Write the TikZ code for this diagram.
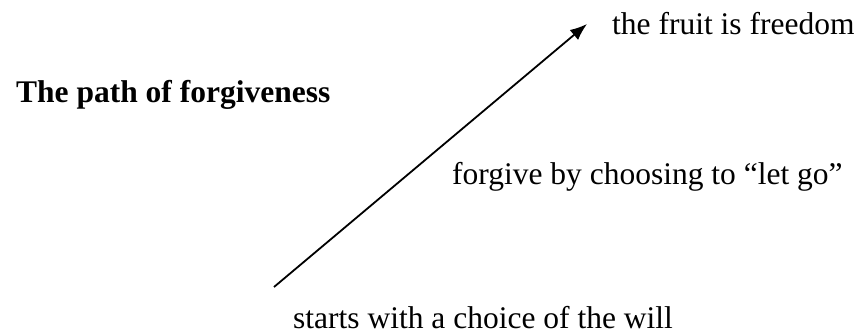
\documentclass[tikz,border=0pt]{standalone}
\usepackage{fontspec}
\setmainfont{Liberation Serif}
\usetikzlibrary{arrows.meta}
\begin{document}
\begin{tikzpicture}[x=1pt,y=-1pt,
  lbl/.style={anchor=base west, inner sep=0pt, font=\fontsize{31.5}{36}\selectfont},
  ttl/.style={anchor=base west, inner sep=0pt, font=\fontsize{31.5}{36}\selectfont\bfseries}]
\useasboundingbox (0,0) rectangle (860,334);
\node[lbl] (fruit) at (612,35) {the fruit is freedom};
\node[ttl] (title) at (16,103) {The path of forgiveness};
\node[lbl] (forgive) at (452,185) {forgive by choosing to “let go”};
\node[lbl] (starts) at (293,328) {starts with a choice of the will};
\coordinate (s) at (274,287);
\coordinate (e) at (587,24);
\draw[line width=1.8pt, -{Latex[length=17pt,width=13pt]}] (s) -- (e);
\end{tikzpicture}
\end{document}
